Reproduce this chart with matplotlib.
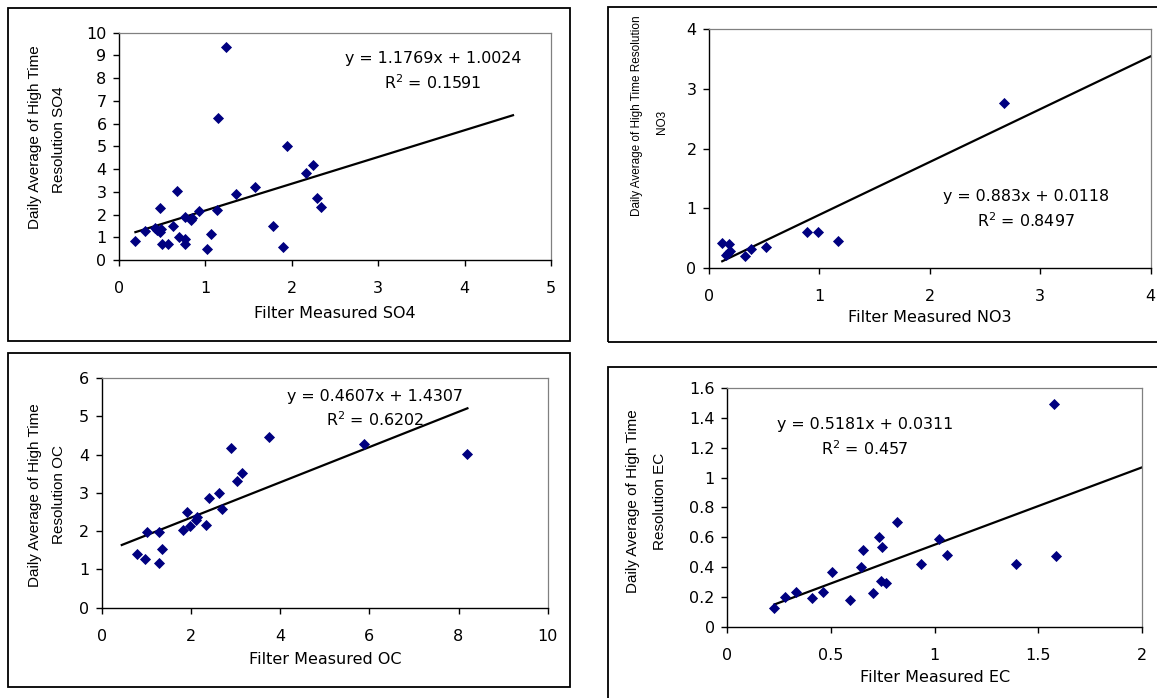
import matplotlib
matplotlib.use('Agg')
import matplotlib.pyplot as plt
import numpy as np
from matplotlib.patches import Rectangle

# ---- data ----
so4_x = [0.19, 0.30, 0.42, 0.44, 0.47, 0.49, 0.47, 0.50, 0.57, 0.63, 0.67, 0.70, 0.76, 0.76,
         0.76, 0.83, 0.85, 0.93, 1.02, 1.07, 1.14, 1.15, 1.24, 1.35, 1.57, 1.78, 1.90, 1.95,
         2.16, 2.25, 2.29, 2.34]
so4_y = [0.84, 1.29, 1.39, 1.32, 1.22, 1.35, 2.29, 0.69, 0.69, 1.50, 3.04, 1.03, 0.92, 0.69,
         1.91, 1.76, 1.83, 2.14, 0.48, 1.14, 2.20, 6.26, 9.35, 2.89, 3.20, 1.50, 0.57, 5.00,
         3.84, 4.19, 2.74, 2.35]

no3_x = [0.12, 0.18, 0.15, 0.17, 0.19, 0.33, 0.38, 0.52, 0.89, 0.99, 1.17, 2.67]
no3_y = [0.42, 0.40, 0.23, 0.25, 0.29, 0.21, 0.32, 0.36, 0.60, 0.60, 0.45, 2.77]

oc_x = [0.79, 0.96, 1.01, 1.28, 1.29, 1.36, 1.82, 1.91, 1.98, 2.12, 2.13, 2.34, 2.41, 2.63,
        2.69, 2.91, 3.03, 3.15, 3.74, 5.88, 8.18]
oc_y = [1.39, 1.28, 1.98, 1.16, 1.99, 1.54, 2.03, 2.50, 2.13, 2.29, 2.38, 2.16, 2.87, 3.00,
        2.59, 4.16, 3.31, 3.52, 4.45, 4.28, 4.02]

ec_x = [0.227, 0.277, 0.330, 0.409, 0.463, 0.507, 0.592, 0.644, 0.656, 0.705, 0.734, 0.742,
        0.748, 0.766, 0.821, 0.933, 1.020, 1.062, 1.392, 1.575, 1.588]
ec_y = [0.123, 0.199, 0.234, 0.192, 0.234, 0.364, 0.179, 0.400, 0.516, 0.228, 0.600, 0.304,
        0.536, 0.290, 0.701, 0.422, 0.585, 0.482, 0.422, 1.493, 0.471]

# trendline slope, intercept, R^2 and the x span the line covers
so4_fit = [1.1769, 1.0024, 0.1591]
no3_fit = [0.883, 0.0118, 0.8497]
oc_fit = [0.4607, 1.4307, 0.6202]
ec_fit = [0.5181, 0.0311, 0.457]
so4_span = [0.19, 4.56]
no3_span = [0.12, 4.0]
oc_span = [0.45, 8.2]
ec_span = [0.227, 2.0]

W, H = 1157, 698
fig = plt.figure(figsize=(W / 100, H / 100), dpi=100)
fig.patch.set_facecolor('white')

TICKFONT = 'DejaVu Sans'
TICKSIZE = 11.5


def px(x, y):
    return x / W, 1 - y / H


def frame(x0, y0, x1, y1):
    fig.patches.append(Rectangle(px(x0, y1), (x1 - x0) / W, (y1 - y0) / H,
                                 transform=fig.transFigure, fill=False,
                                 edgecolor='black', linewidth=1.3))


def panel(box, xs, ys, fit, span, xlim, xstep, ylim, ystep):
    l, t, r, b = box
    ax = fig.add_axes([l / W, 1 - b / H, (r - l) / W, (b - t) / H])
    ax.scatter(xs, ys, marker='D', s=32, color='#000080', zorder=3, linewidths=0)
    lx = np.array(span)
    ax.plot(lx, fit[0] * lx + fit[1], color='black', linewidth=1.6, zorder=2)
    ax.set_xlim(*xlim)
    ax.set_ylim(*ylim)
    ax.set_xticks(np.arange(xlim[0], xlim[1] + xstep / 2, xstep))
    ax.set_yticks(np.arange(ylim[0], ylim[1] + ystep / 2, ystep))
    ax.set_xticklabels(['{:g}'.format(round(v, 2)) for v in ax.get_xticks()])
    ax.set_yticklabels(['{:g}'.format(round(v, 2)) for v in ax.get_yticks()])
    for s in ['top', 'right']:
        ax.spines[s].set_color('#808080')
        ax.spines[s].set_linewidth(0.9)
    for s in ['left', 'bottom']:
        ax.spines[s].set_color('black')
        ax.spines[s].set_linewidth(1.0)
    ax.tick_params(axis='both', direction='out', length=4, width=1,
                   labelsize=TICKSIZE, top=False, right=False)
    ax.tick_params(axis='x', pad=11)
    ax.tick_params(axis='y', pad=5)
    for lab in ax.get_xticklabels() + ax.get_yticklabels():
        lab.set_family(TICKFONT)
    return ax


def eq_text(fit, x, y):
    fx, fy = px(x, y)
    fig.text(fx, fy, 'y = {}x + {}'.format(fit[0], fit[1]), ha='center', va='center',
             fontsize=11.4, family=TICKFONT)
    fx, fy = px(x, y + 24)
    fig.text(fx, fy, 'R$^2$ = {}'.format(fit[2]), ha='center', va='center',
             fontsize=11.4, family=TICKFONT)


def xlabel(text, x, y):
    fx, fy = px(x, y)
    fig.text(fx, fy, text, ha='center', va='center', fontsize=TICKSIZE, family=TICKFONT)


def ylabel(text, x, y, size=11):
    fx, fy = px(x, y)
    fig.text(fx, fy, text, ha='center', va='center', rotation=90, fontsize=size,
             family='Liberation Sans')


# panel frames
frame(8, 8, 570, 341)
frame(8, 353, 570, 687)
frame(608, 7, 1162, 342)
frame(608, 367, 1162, 705)

# SO4
panel((119, 32.7, 551, 260), so4_x, so4_y, so4_fit, so4_span, (0, 5), 1, (0, 10), 1)
eq_text(so4_fit, 433, 59)
xlabel('Filter Measured SO4', 335, 313)
ylabel('Daily Average of High Time', 35, 137)
ylabel('Resolution SO4', 59, 140)

# NO3
panel((709, 29, 1150.7, 268.3), no3_x, no3_y, no3_fit, no3_span, (0, 4), 1, (0, 4), 1)
eq_text(no3_fit, 1026, 197)
xlabel('Filter Measured NO3', 930, 318)
ylabel('Daily Average of High Time Resolution', 637, 116, size=8.5)
ylabel('NO3', 662, 122, size=8.5)

# OC
panel((101.7, 378, 547.7, 607.7), oc_x, oc_y, oc_fit, oc_span, (0, 10), 2, (0, 6), 1)
eq_text(oc_fit, 375, 396)
xlabel('Filter Measured OC', 325, 660)
ylabel('Daily Average of High Time', 35, 495)
ylabel('Resolution OC', 59, 495)

# EC
panel((727.3, 388, 1141.7, 626.7), ec_x, ec_y, ec_fit, ec_span, (0, 2), 0.5, (0, 1.6), 0.2)
eq_text(ec_fit, 865, 425)
xlabel('Filter Measured EC', 935, 677)
ylabel('Daily Average of High Time', 633, 501)
ylabel('Resolution EC', 660, 501)

fig.savefig('out.png', dpi=100)
